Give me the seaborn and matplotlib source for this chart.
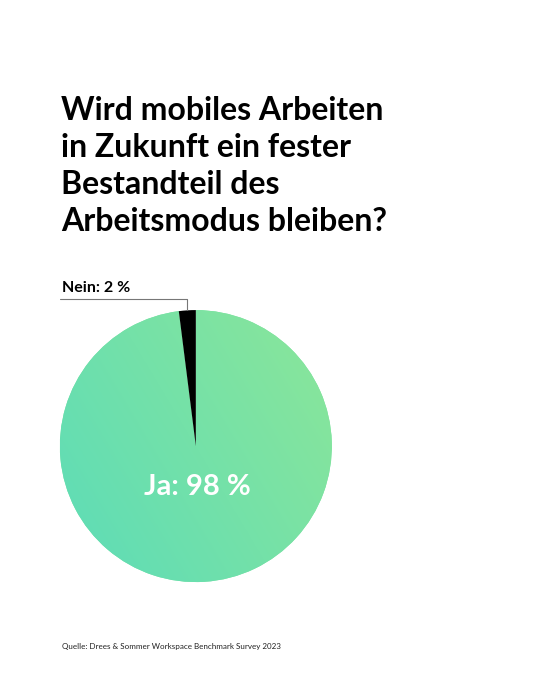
import numpy as np
import seaborn as sns
import matplotlib.pyplot as plt
from matplotlib.colors import LinearSegmentedColormap

sns.set_theme(style="white")
plt.rcParams["font.family"] = ["Lato", "DejaVu Sans"]

# data
labels = ["Nein", "Ja"]
shares = [2, 98]
title_lines = ["Wird mobiles Arbeiten", "in Zukunft ein fester",
               "Bestandteil des", "Arbeitsmodus bleiben?"]
source = "Quelle: Drees & Sommer Workspace Benchmark Survey 2023"

fig = plt.figure(figsize=(5.44, 6.8), dpi=100)
fig.patch.set_facecolor("white")

fig.text(0.112, 1 - 96 / 680, "\n".join(title_lines), ha="left", va="top",
         fontsize=23, fontweight="bold", color="black", linespacing=1.33)

ax = fig.add_axes([0.110, 0.144, 0.5, 0.4])
wedges, _ = ax.pie(shares, startangle=90, counterclock=True,
                   colors=["black", "#7ce3a4"], radius=1,
                   wedgeprops=dict(linewidth=0))
ax.set_xlim(-1, 1)
ax.set_ylim(-1, 1)
ax.set_aspect("equal")
ax.axis("off")

# gradient fill for the "Ja" wedge
cmap = LinearSegmentedColormap.from_list("g", ["#5cdcb8", "#8ce699"])
xx, yy = np.meshgrid(np.linspace(0, 1, 200), np.linspace(0, 1, 200))
grad = (xx + yy * 0.6) / 1.6
img = ax.imshow(grad, extent=[-1, 1, -1, 1], origin="lower", cmap=cmap,
                zorder=1, interpolation="bicubic")
img.set_clip_path(wedges[1])
wedges[0].set_zorder(2)

# labels
ax.text(0.01, -0.30, f"{labels[1]}: {shares[1]} %", ha="center", va="center",
        fontsize=21, fontweight="bold", color="white", zorder=3)

w = wedges[0]
mid = np.deg2rad((w.theta1 + w.theta2) / 2)
mx = np.cos(mid)
ax.plot([-1.0, mx, mx], [1.08, 1.08, 1.0], color="#777777", lw=0.8,
        clip_on=False, zorder=3)
ax.text(-0.985, 1.11, f"{labels[0]}: {shares[0]} %", ha="left", va="bottom",
        fontsize=11.5, fontweight="bold", color="black")

fig.text(0.114, 1 - 647 / 680, source, ha="left", va="center",
         fontsize=5.8, color="#222222")

plt.savefig("out.png", dpi=100, facecolor="white")
plt.close()
